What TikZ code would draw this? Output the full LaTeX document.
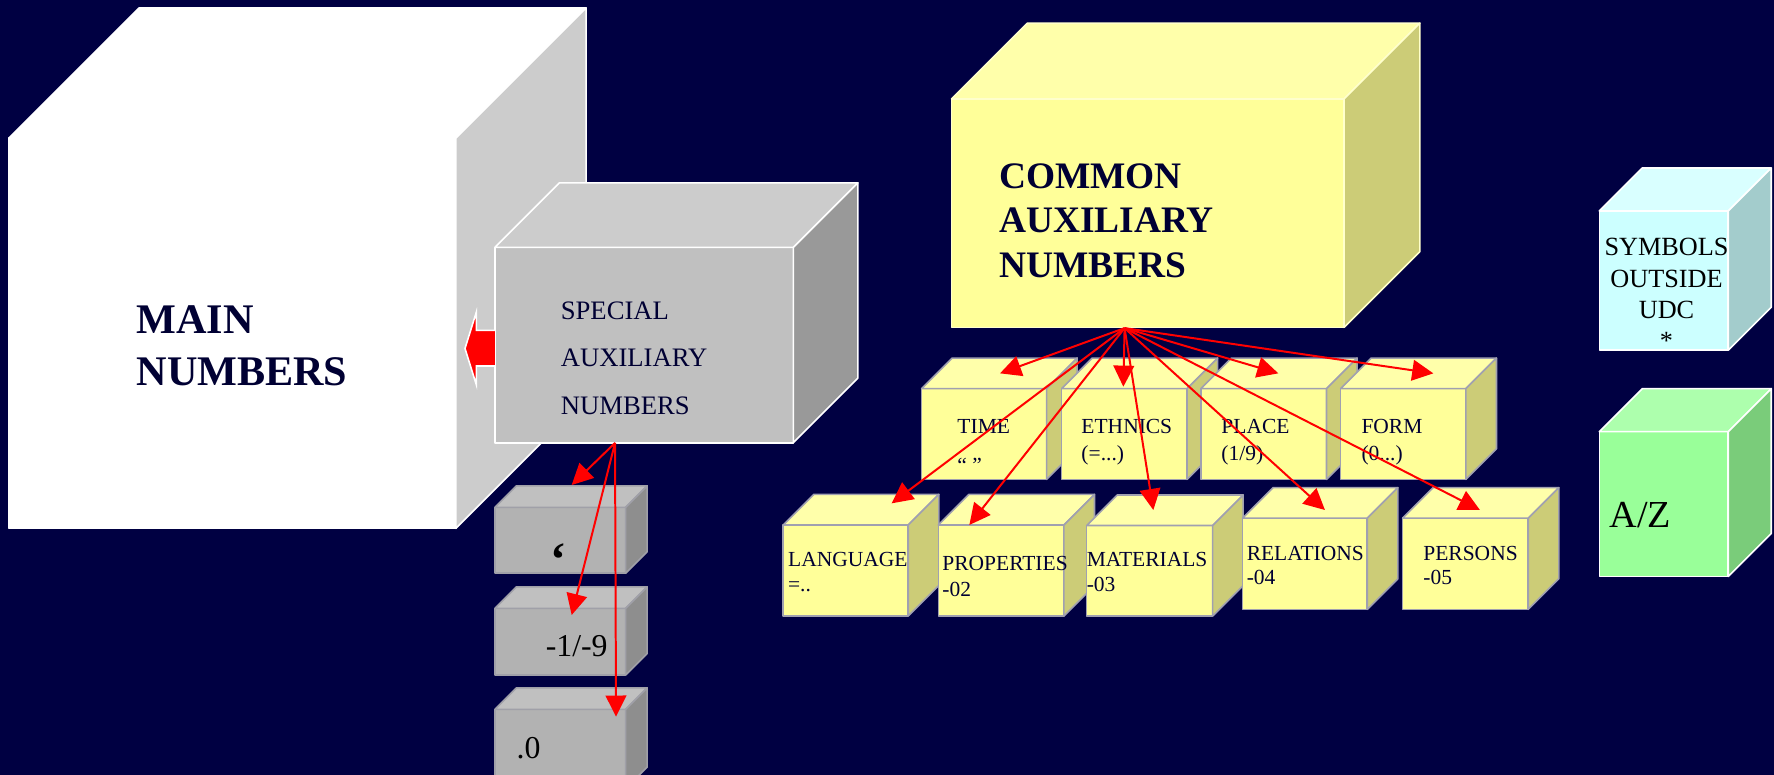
\documentclass[tikz,border=0pt]{standalone}
\usepackage{fontspec}
\setmainfont{Liberation Serif}
\usetikzlibrary{arrows.meta}
\definecolor{bgnavy}{HTML}{000042}
\definecolor{txtnavy}{HTML}{000033}
% palettes: front / top / side / edge
\definecolor{mainfront}{HTML}{FFFFFF}\definecolor{maintop}{HTML}{FFFFFF}\definecolor{mainside}{HTML}{CCCCCC}\definecolor{mainedge}{HTML}{FFFFFF}
\definecolor{specfront}{HTML}{C0C0C0}\definecolor{spectop}{HTML}{CCCCCC}\definecolor{specside}{HTML}{999999}\definecolor{specedge}{HTML}{FFFFFF}
\definecolor{grayfront}{HTML}{B2B2B2}\definecolor{graytop}{HTML}{C0C0C0}\definecolor{grayside}{HTML}{8E8E8E}\definecolor{grayedge}{HTML}{A0A0A8}
\definecolor{comfront}{HTML}{FFFF99}\definecolor{comtop}{HTML}{FFFFAA}\definecolor{comside}{HTML}{CCCC77}\definecolor{comedge}{HTML}{FFFFCC}
\definecolor{yelfront}{HTML}{FFFF99}\definecolor{yeltop}{HTML}{FFFFAA}\definecolor{yelside}{HTML}{CCCC77}\definecolor{yeledge}{HTML}{A0A0B0}
\definecolor{cyanfront}{HTML}{CCFFFF}\definecolor{cyantop}{HTML}{D9FFFF}\definecolor{cyanside}{HTML}{A3CCCC}\definecolor{cyanedge}{HTML}{FFFFFF}
\definecolor{grnfront}{HTML}{99FF99}\definecolor{grntop}{HTML}{ADFFAD}\definecolor{grnside}{HTML}{7ACC7A}\definecolor{grnedge}{HTML}{FFFFFF}
\newcommand{\cuboid}[7]{%
  \filldraw[boxedge, fill=#7front, draw=#7edge] (#2,{-#3}) rectangle ({#2+#4},{-#3-#5});
  \filldraw[boxedge, fill=#7top, draw=#7edge] (#2,{-#3}) -- ({#2+#6},{-#3+#6}) -- ({#2+#4+#6},{-#3+#6}) -- ({#2+#4},{-#3}) -- cycle;
  \filldraw[boxedge, fill=#7side, draw=#7edge] ({#2+#4},{-#3}) -- ({#2+#4+#6},{-#3+#6}) -- ({#2+#4+#6},{-#3-#5+#6}) -- ({#2+#4},{-#3-#5}) -- cycle;
  \coordinate (#1) at ({#2+#4/2},{-#3-#5/2});
}
\begin{document}
\begin{tikzpicture}[x=0.01cm,y=0.01cm,
  boxedge/.style={line width=0.4pt, line join=round},
  lbl/.style={inner sep=0pt, anchor=base west, text=txtnavy},
  bigbold/.style={lbl, font=\fontsize{10.6pt}{13pt}\selectfont\bfseries},
  spectxt/.style={lbl, font=\fontsize{6.7pt}{8pt}\selectfont},
  comtxt/.style={lbl, font=\fontsize{9.4pt}{11pt}\selectfont\bfseries},
  smalltxt/.style={lbl, font=\fontsize{5.4pt}{6.5pt}\selectfont},
  graytxt/.style={inner sep=0pt, anchor=base west, text=black, font=\fontsize{8pt}{9.6pt}\selectfont},
  symtxt/.style={inner sep=0pt, anchor=base, text=black, font=\fontsize{6.6pt}{8pt}\selectfont},
  redarrow/.style={draw=red, line width=0.5pt, -{Triangle[length=5.3pt,width=5.2pt]}, fill=red}
]
\fill[bgnavy] (0,0) rectangle (1568,-685);
\useasboundingbox (0,0) rectangle (1568,-685);

% main numbers cube
\cuboid{main}{8}{122}{395}{345}{115}{main}
\node[bigbold] (mainA) at (120,-295) {MAIN};
\node[bigbold] (mainB) at (120,-341) {NUMBERS};

% special auxiliary box
\cuboid{spec}{437.5}{218.6}{263.7}{172.7}{57}{spec}
\node[spectxt] (specA) at (495,-282.3) {SPECIAL};
\node[spectxt] (specB) at (495,-324) {AUXILIARY};
\node[spectxt] (specC) at (495,-366.8) {NUMBERS};
% red block arrow
\filldraw[fill=red, draw=white, line width=0.4pt, line join=miter]
  (437.5,-292) -- (421,-292) -- (421,-276) -- (411,-308) -- (421,-340) -- (421,-323.5) -- (437.5,-323.5);

% small gray boxes
\cuboid{gA}{437.5}{448.4}{115.5}{58.3}{19}{gray}
\cuboid{gB}{437.5}{537.7}{115.5}{58.9}{19}{gray}
\cuboid{gC}{437.5}{627}{115.5}{70}{19}{gray}
\node[graytxt, font=\fontsize{12pt}{14pt}\selectfont\bfseries] (gAt) at (486,-509) {‘};
\node[graytxt] (gBt) at (481.7,-580.4) {-1/-9};
\node[graytxt] (gCt) at (456,-670.3) {.0};

\coordinate (specsrc) at (543.6,-391.5);
\coordinate (gAtip) at (505.3,-428.7);
\coordinate (gBtip) at (505.3,-543.6);
\coordinate (gCtip) at (544.5,-633.4);
\draw[redarrow] (specsrc) -- (gAtip);
\draw[redarrow] (specsrc) -- (gBtip);
\draw[redarrow] (specsrc) -- (gCtip);

% common auxiliary box
\cuboid{com}{841}{87.5}{347}{201.8}{67}{com}
\node[comtxt] (comA) at (882.3,-166.5) {COMMON};
\node[comtxt] (comB) at (882.3,-205.4) {AUXILIARY};
\node[comtxt] (comC) at (882.3,-245.1) {NUMBERS};

% top row of yellow boxes
\cuboid{time}{814.6}{343.5}{110.5}{80.2}{27}{yel}
\cuboid{ethnics}{938.4}{343.5}{110.8}{80.2}{27}{yel}
\cuboid{place}{1061.5}{343.5}{111}{80.2}{27}{yel}
\cuboid{form}{1185}{343.5}{110.7}{80.2}{27}{yel}
\node[smalltxt] (timeA) at (845.6,-383.6) {TIME};
\node[smalltxt] (timeB) at (845.6,-418) {“ ”};
\node[smalltxt] (ethA) at (955.2,-383.6) {ETHNICS};
\node[smalltxt] (ethB) at (955.2,-406.6) {(=...)};
\node[smalltxt] (plA) at (1078.9,-383.6) {PLACE};
\node[smalltxt] (plB) at (1078.9,-406.6) {(1/9)};
\node[smalltxt] (foA) at (1202.7,-383.6) {FORM};
\node[smalltxt] (foB) at (1202.7,-406.6) {(0...)};

% bottom row of yellow boxes
\cuboid{language}{692.3}{464}{110.5}{80.5}{27}{yel}
\cuboid{properties}{829.4}{464}{111}{80.5}{27}{yel}
\cuboid{materials}{960.5}{464.5}{111.3}{80}{27}{yel}
\cuboid{relations}{1098.3}{458}{110.2}{80.6}{27}{yel}
\cuboid{persons}{1239.8}{458}{111}{80.6}{27}{yel}
\node[smalltxt] (laA) at (695.9,-500.3) {LANGUAGE};
\node[smalltxt] (laB) at (695.9,-523) {=..};
\node[smalltxt] (prA) at (832.3,-504.4) {PROPERTIES};
\node[smalltxt] (prB) at (832.3,-527.4) {-02};
\node[smalltxt] (maA) at (959.9,-500.3) {MATERIALS};
\node[smalltxt] (maB) at (959.9,-523) {-03};
\node[smalltxt] (reA) at (1101.3,-495) {RELATIONS};
\node[smalltxt] (reB) at (1101.3,-517) {-04};
\node[smalltxt] (peA) at (1257.4,-495) {PERSONS};
\node[smalltxt] (peB) at (1257.4,-517) {-05};

% arrows from common box
\coordinate (comsrc) at (994,-290);
\coordinate (timetip) at (883.9,-330);
\coordinate (ethtip) at (992.9,-341.8);
\coordinate (pltip) at (1129.9,-330);
\coordinate (fotip) at (1266.9,-330);
\coordinate (latip) at (788.1,-444.9);
\coordinate (prtip) at (856.8,-464);
\coordinate (matip) at (1019.4,-450.8);
\coordinate (retip) at (1171.1,-450.8);
\coordinate (petip) at (1308.1,-450.8);
\foreach \t in {timetip,ethtip,pltip,fotip,latip,prtip,matip,retip,petip}
  \draw[redarrow] (comsrc) -- (\t);

% symbols outside UDC
\cuboid{sym}{1413.6}{186.5}{114}{123}{38}{cyan}
\node[symtxt] (syA) at (1473,-225.4) {SYMBOLS};
\node[symtxt] (syB) at (1473,-254) {OUTSIDE};
\node[symtxt] (syC) at (1473,-281.4) {UDC};
\node[symtxt] (syD) at (1473,-309) {*};

% A/Z
\cuboid{az}{1413.6}{381.5}{114}{128}{38}{grn}
\node[inner sep=0pt, anchor=base west, text=black, font=\fontsize{9.6pt}{11pt}\selectfont] (azt) at (1422,-466) {A/Z};
\end{tikzpicture}
\end{document}
